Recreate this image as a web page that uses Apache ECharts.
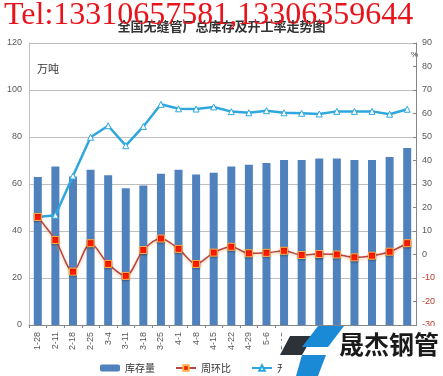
<!DOCTYPE html>
<html>
<head>
<meta charset="utf-8">
<script src="https://cdn.jsdelivr.net/npm/echarts@6/dist/echarts.min.js"></script>
<style>
  html, body { margin: 0; padding: 0; background: #fff; }
  #main { width: 443px; height: 376px; }
</style>
</head>
<body>
<div id="main"></div>
<script>
// 周次
const weeks = ['1-28', '2-11', '2-18', '2-25', '3-4', '3-11', '3-18', '3-25', '4-1', '4-8', '4-15',
  '4-22', '4-29', '5-6', '5-13', '5-20', '5-27', '6-3', '6-10', '6-17', '6-24', '7-1'];
// 库存量 (万吨)
const stock = [63.0, 67.4, 63.2, 66.1, 63.7, 58.2, 59.4, 64.4, 66.1, 64.0, 64.8,
  67.4, 68.2, 68.9, 70.2, 70.2, 70.8, 70.8, 70.2, 70.2, 71.5, 75.3];
// 周环比 (%)
const weekChange = [16.0, 6.2, -7.3, 4.8, -4.0, -9.1, 1.9, 6.8, 2.4, -4.0, 0.8,
  3.3, 0.5, 0.7, 1.6, -0.2, 0.2, 0.0, -1.2, -0.5, 1.2, 4.8];
// 开工率 (%)
const runRate = [16.0, 16.7, 33.4, 49.9, 54.8, 46.3, 54.5, 63.9, 62.0, 61.9, 62.8,
  60.8, 60.3, 61.2, 60.3, 60.1, 59.8, 60.9, 60.9, 60.9, 59.7, 61.8];

const chart = echarts.init(document.getElementById('main'));
const font = '"Liberation Sans", Arial, sans-serif';
const cjk = '"Noto Sans CJK SC", sans-serif';

const option = {
  animation: false,
  title: {
    text: '全国无缝管厂总库存及开工率走势图',
    left: 'center',
    top: 15,
    textStyle: { fontFamily: cjk, fontSize: 13, fontWeight: 'bold', color: '#333' }
  },
  legend: {
    left: 95,
    top: 358,
    itemWidth: 20,
    itemHeight: 7,
    itemGap: 20,
    textStyle: { fontFamily: cjk, fontSize: 10, color: '#333' },
    data: ['库存量', '周环比', '开工率']
  },
  grid: { left: 29, right: 27, top: 43, bottom: 51 },
  xAxis: {
    type: 'category',
    data: weeks,
    axisLine: { lineStyle: { color: '#868686' } },
    axisTick: { show: true, length: 3, lineStyle: { color: '#868686' } },
    axisLabel: { rotate: 90, fontSize: 9, color: '#595959', fontFamily: font, margin: 7 }
  },
  yAxis: [
    {
      type: 'value', min: 0, max: 120, interval: 20,
      axisLine: { show: true, lineStyle: { color: '#bfbfbf' } },
      axisTick: { show: false },
      axisLabel: { fontSize: 9, color: '#595959', fontFamily: font, margin: 7 },
      splitLine: { lineStyle: { color: '#bfbfbf' } }
    },
    {
      type: 'value', min: -30, max: 90, interval: 10,
      axisLine: { show: true, lineStyle: { color: '#868686' } },
      axisTick: { show: true, inside: true, length: 3, lineStyle: { color: '#868686' } },
      splitLine: { show: false },
      axisLabel: {
        fontSize: 9, color: '#595959', fontFamily: font, margin: 6,
        formatter: v => v < 0 ? '{neg|' + v + '}' : '' + v,
        rich: { neg: { color: '#c0392b', fontSize: 9, fontFamily: font } }
      }
    }
  ],
  series: [
    {
      name: '库存量', type: 'bar', data: stock, barWidth: 8,
      itemStyle: { color: '#4f81bd' }
    },
    {
      name: '周环比', type: 'line', yAxisIndex: 1, data: weekChange, smooth: 0.3,
      symbol: 'rect', symbolSize: 7,
      lineStyle: { color: '#b8453f', width: 1.5, shadowColor: 'rgba(240,150,60,0.6)', shadowBlur: 3, shadowOffsetY: 1 },
      itemStyle: { color: '#ff1a00', borderColor: '#ffb347', borderWidth: 1, shadowColor: 'rgba(0,0,0,0.3)', shadowBlur: 2, shadowOffsetY: 1 },
      z: 4
    },
    {
      name: '开工率', type: 'line', yAxisIndex: 1, data: runRate,
      symbol: 'triangle', symbolSize: 6,
      lineStyle: { color: '#2ea7de', width: 2.5 },
      itemStyle: { color: '#ffffff', borderColor: '#2ea7de', borderWidth: 1 },
      z: 3
    }
  ],
  graphic: [
    { type: 'text', left: 37, top: 63, style: { text: '万吨', fontFamily: cjk, fontSize: 11, fill: '#333' } },
    { type: 'text', left: 411, top: 51, style: { text: '%', fontFamily: font, fontSize: 8, fill: '#333' } },
    // 遮挡的白块与logo
    { type: 'rect', shape: { x: 282, y: 326, width: 161, height: 50 }, style: { fill: '#fff' }, z: 50 },
    { type: 'polygon', shape: { points: [[290, 336], [313, 336], [302, 355], [280, 355]] }, style: { fill: '#2d3238' }, z: 51 },
    { type: 'polygon', shape: { points: [[318, 326], [344, 326], [328, 347], [302, 347]] }, style: { fill: '#1b8ad6' }, z: 51 },
    { type: 'polygon', shape: { points: [[302, 355], [326, 355], [318, 376], [296, 376]] }, style: { fill: '#1b8ad6' }, z: 51 },
    { type: 'text', left: 339, top: 332, style: { text: '晟杰钢管', fontFamily: cjk, fontSize: 25, fontWeight: 'bold', fill: '#1a1a1a' }, z: 51 },
    // 水印
    { type: 'text', left: 4, top: 0, style: { text: 'Tel:13310657581,13306359644', fontFamily: '"Liberation Serif", serif', fontSize: 32, fill: '#e8141c' }, z: 60 }
  ]
};

chart.setOption(option);
</script>
</body>
</html>
